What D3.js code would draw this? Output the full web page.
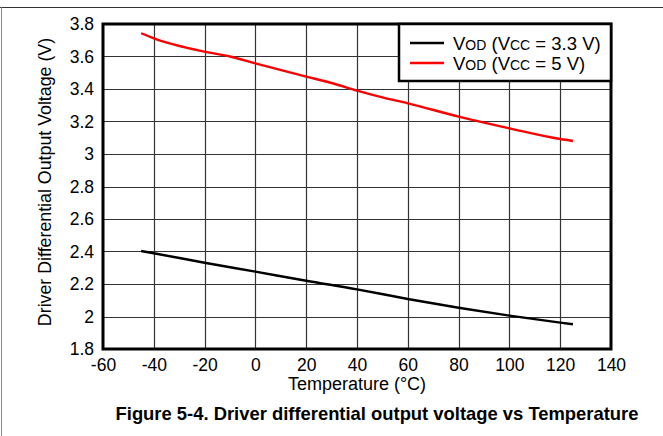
<!DOCTYPE html>
<html>
<head>
<meta charset="utf-8">
<script src="https://cdn.jsdelivr.net/npm/d3@7"></script>
<style>
  body { margin: 0; background: #fff; }
  svg { display: block; font-family: "Liberation Sans", Arial, sans-serif; }
</style>
</head>
<body>
<div id="chart"></div>
<script>
// data
const temps33 = [-45, -40, -20, 0, 20, 40, 60, 80, 100, 120, 125]
const vod33 = [2.403, 2.389, 2.331, 2.276, 2.22, 2.167, 2.108, 2.054, 2.005, 1.962, 1.952]
const temps5 = [-45, -40, -20, -10, 0, 20, 30, 40, 50, 60, 80, 100, 120, 125]
const vod5 = [3.743, 3.712, 3.63, 3.6, 3.558, 3.476, 3.437, 3.39, 3.348, 3.312, 3.23, 3.158, 3.092, 3.08]
const xTicks = [-60, -40, -20, 0, 20, 40, 60, 80, 100, 120, 140]
const yTicks = [1.8, 2, 2.2, 2.4, 2.6, 2.8, 3, 3.2, 3.4, 3.6, 3.8]
const seriesNames = ["V|OD| (V|CC| = 3.3 V)", "V|OD| (V|CC| = 5 V)"]
const seriesColors = ["#000000", "#ff0000"]

const W = 663, H = 436
const plot = { left: 103, right: 611, top: 24, bottom: 349 }

const svg = d3.select("#chart").append("svg")
    .attr("width", W)
    .attr("height", H)

// outer figure border (top + left)
svg.append("line").attr("x1", 0).attr("x2", W).attr("y1", 7.5).attr("y2", 7.5)
    .attr("stroke", "#333").attr("stroke-width", 1)
svg.append("line").attr("x1", 1.5).attr("x2", 1.5).attr("y1", 7).attr("y2", H)
    .attr("stroke", "#888").attr("stroke-width", 1)

const x = d3.scaleLinear().domain([-60, 140]).range([plot.left, plot.right])
const y = d3.scaleLinear().domain([1.8, 3.8]).range([plot.bottom, plot.top])

// grid
const grid = svg.append("g")
grid.selectAll(".vg").data(xTicks.slice(1, -1)).enter().append("line")
    .attr("x1", d => Math.round(x(d)) + 0.5).attr("x2", d => Math.round(x(d)) + 0.5)
    .attr("y1", plot.top).attr("y2", plot.bottom)
    .attr("stroke", "#333").attr("stroke-width", 1.2)
grid.selectAll(".hg").data(yTicks.slice(1, -1)).enter().append("line")
    .attr("y1", d => Math.round(y(d)) + 0.5).attr("y2", d => Math.round(y(d)) + 0.5)
    .attr("x1", plot.left).attr("x2", plot.right)
    .attr("stroke", "#333").attr("stroke-width", 1.2)

// axes (labels only)
const xAxis = svg.append("g")
    .attr("transform", "translate(0," + (plot.bottom + 6) + ")")
    .call(d3.axisBottom(x).tickValues(xTicks).tickSize(0).tickPadding(4).tickFormat(d => String(d)))
xAxis.select(".domain").remove()
xAxis.selectAll("text").attr("font-size", 17.5).attr("fill", "#000").attr("font-family", "Liberation Sans, Arial, sans-serif")

const yAxis = svg.append("g")
    .attr("transform", "translate(" + (plot.left - 7) + ",0)")
    .call(d3.axisLeft(y).tickValues(yTicks).tickSize(0).tickPadding(2).tickFormat(d => String(+d.toFixed(1))))
yAxis.select(".domain").remove()
yAxis.selectAll("text").attr("font-size", 17.5).attr("fill", "#000").attr("font-family", "Liberation Sans, Arial, sans-serif")

// lines
const line = d3.line().curve(d3.curveMonotoneX).x(d => x(d[0])).y(d => y(d[1]))
const series = [d3.zip(temps33, vod33), d3.zip(temps5, vod5)]
svg.selectAll(".series").data(series).enter().append("path")
    .attr("d", line)
    .attr("fill", "none")
    .attr("stroke", (d, i) => seriesColors[i])
    .attr("stroke-width", 2.4)

// plot frame
svg.append("rect")
    .attr("x", plot.left).attr("y", plot.top)
    .attr("width", plot.right - plot.left).attr("height", plot.bottom - plot.top)
    .attr("fill", "none").attr("stroke", "#000").attr("stroke-width", 3)

// legend
const lg = svg.append("g")
lg.append("rect").attr("x", 399).attr("y", plot.top)
    .attr("width", plot.right - 399).attr("height", 57)
    .attr("fill", "#fff").attr("stroke", "#000").attr("stroke-width", 2.5)
seriesNames.forEach((name, i) => {
    const yy = 43 + i * 20
    lg.append("line").attr("x1", 410).attr("x2", 444).attr("y1", yy).attr("y2", yy)
        .attr("stroke", seriesColors[i]).attr("stroke-width", 2.4)
    const parts = name.split("|")
    const t = lg.append("text").attr("x", 453).attr("y", yy + 6.5)
        .attr("font-size", 18.5).attr("fill", "#000")
    parts.forEach((p, k) => {
        t.append("tspan").text(p).attr("font-size", k % 2 ? 14 : 18.5)
    })
})

// axis titles
svg.append("text")
    .attr("x", (plot.left + plot.right) / 2).attr("y", 390)
    .attr("text-anchor", "middle").attr("font-size", 18)
    .text("Temperature (°C)")
svg.append("text")
    .attr("transform", "translate(51,182) rotate(-90)")
    .attr("text-anchor", "middle").attr("font-size", 17.8)
    .text("Driver Differential Output Voltage (V)")

// caption
svg.append("text")
    .attr("x", 377).attr("y", 420)
    .attr("text-anchor", "middle").attr("font-size", 18.4).attr("font-weight", "bold")
    .text("Figure 5-4. Driver differential output voltage vs Temperature")
</script>
</body>
</html>
